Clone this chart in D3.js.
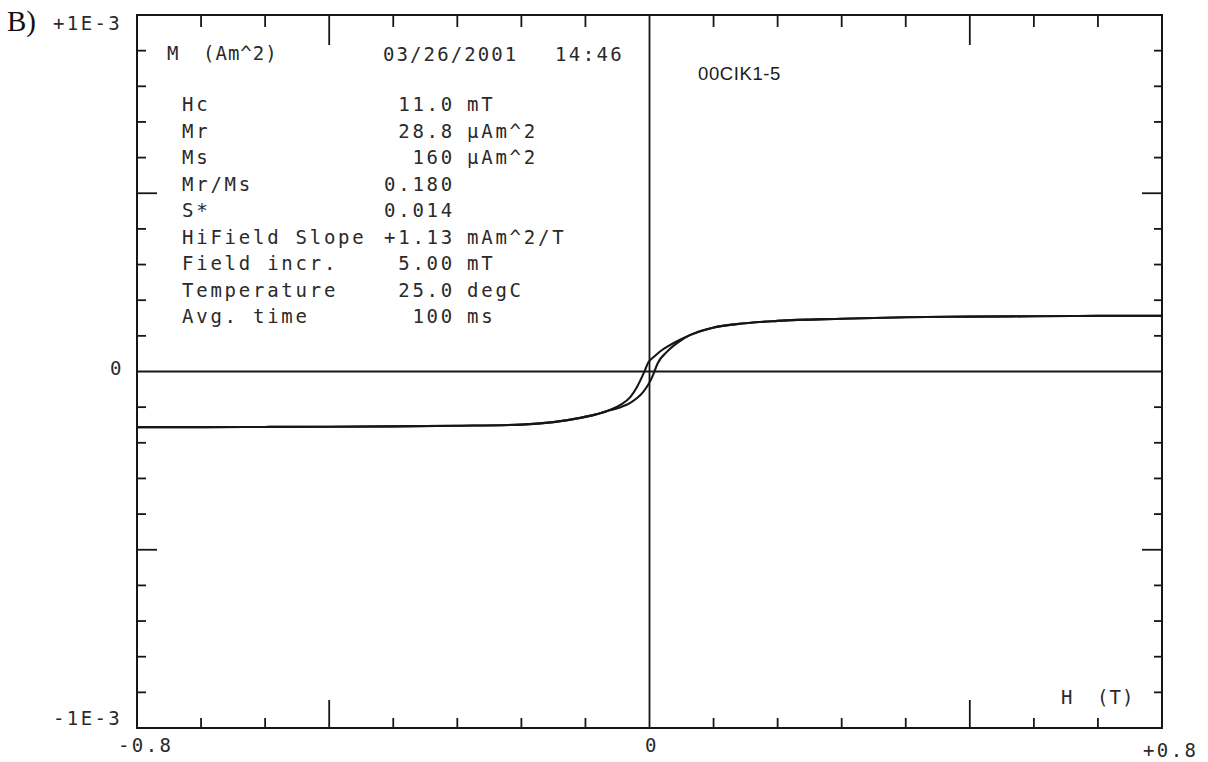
<!DOCTYPE html>
<html><head><meta charset="utf-8">
<script src="https://cdn.jsdelivr.net/npm/d3@7"></script>
<style>
html,body{margin:0;padding:0;background:#fff;}
svg{display:block;}
.mono{font-family:"DejaVu Sans Mono",monospace;fill:#2a2a2a;}
</style></head>
<body>
<svg id="c" width="1208" height="762"></svg>
<script>
// ---- data ----
// descending branch (field going from +0.8 T to -0.8 T), M in µAm^2
const H_desc = [0.8, 0.7, 0.6, 0.5, 0.4, 0.3, 0.2, 0.136, 0.099, 0.063, 0.043, 0.03, 0.0164, 0.008, 0, -0.0023, -0.007, -0.0117, -0.02, -0.03, -0.045, -0.062, -0.085, -0.108, -0.15, -0.2, -0.3, -0.4, -0.5, -0.6, -0.7, -0.8];
const M_desc = [156, 156, 155, 154, 152, 148, 142, 133, 123, 102, 85, 72, 56, 43, 30, 24, 4, -15, -45, -72, -93, -108, -121, -130, -142, -149, -152, -154, -155, -155.5, -156, -156];
// ascending branch (field going from -0.8 T to +0.8 T)
const H_asc = [-0.8, -0.7, -0.6, -0.5, -0.4, -0.3, -0.2, -0.15, -0.108, -0.085, -0.062, -0.045, -0.03, -0.0101, -0.0023, 0.0055, 0.013, 0.027, 0.048, 0.063, 0.099, 0.136, 0.2, 0.3, 0.4, 0.5, 0.6, 0.7, 0.8];
const M_asc = [-156, -156, -155.5, -155, -154, -152, -149, -142, -130, -121, -109, -100, -88, -58, -38, -10, 24, 55, 86, 102, 123, 133, 142, 148, 152, 154, 155, 156, 156];
const xDomain = [-0.8, 0.8];
const yDomain = [-1e-3, 1e-3];
const xMinorTicks = [-0.7, -0.6, -0.5, -0.4, -0.3, -0.2, -0.1, 0.1, 0.2, 0.3, 0.4, 0.5, 0.6, 0.7];
const xMajorTicks = [-0.5, 0.5];
const yMinorTicks = [-9e-4, -8e-4, -7e-4, -6e-4, -5e-4, -4e-4, -3e-4, -2e-4, -1e-4, 1e-4, 2e-4, 3e-4, 4e-4, 5e-4, 6e-4, 7e-4, 8e-4, 9e-4];
const yMajorTicks = [-5e-4, 5e-4];
const xTickLabels = ["-0.8", "0", "+0.8"];
const yTickLabels = ["+1E-3", "0", "-1E-3"];
const statLabels = ["Hc", "Mr", "Ms", "Mr/Ms", "S*", "HiField Slope", "Field incr.", "Temperature", "Avg. time"];
const statValues = ["11.0", "28.8", "160", "0.180", "0.014", "+1.13", "5.00", "25.0", "100"];
const statUnits = ["mT", "µAm^2", "µAm^2", "", "", "mAm^2/T", "mT", "degC", "ms"];
const headerText = ["M", "(Am^2)", "03/26/2001", "14:46"];
const sampleName = "00CIK1-5";
const panelLabel = "B)";
const xAxisTitle = ["H", "(T)"];

// ---- layout ----
const svg = d3.select("#c");
const L = 137, R = 1162, T = 15, B = 728;
const x = d3.scaleLinear().domain(xDomain).range([L, R]);
const y = d3.scaleLinear().domain(yDomain).range([B, T]);
const ink = "#161616";

// zero lines
svg.append("line").attr("x1", x(xDomain[0])).attr("x2", x(xDomain[1]))
  .attr("y1", y(0)).attr("y2", y(0)).attr("stroke", ink).attr("stroke-width", 1.8);
svg.append("line").attr("x1", x(0)).attr("x2", x(0))
  .attr("y1", y(yDomain[0])).attr("y2", y(yDomain[1])).attr("stroke", ink).attr("stroke-width", 1.8);

// ticks
const tk = svg.append("g").attr("stroke", ink).attr("stroke-width", 1.8);
xMinorTicks.forEach(v => {
  const big = xMajorTicks.includes(v);
  tk.append("line").attr("x1", x(v)).attr("x2", x(v)).attr("y1", T).attr("y2", T + (big ? 30 : 12));
  tk.append("line").attr("x1", x(v)).attr("x2", x(v)).attr("y1", B).attr("y2", B - (big ? 28 : 10));
});
yMinorTicks.forEach(v => {
  const big = yMajorTicks.some(m => Math.abs(m - v) < 1e-9);
  tk.append("line").attr("x1", L).attr("x2", L + (big ? 20 : 9)).attr("y1", y(v)).attr("y2", y(v));
  tk.append("line").attr("x1", R).attr("x2", R - (big ? 20 : 8)).attr("y1", y(v)).attr("y2", y(v));
});

// frame
svg.append("rect").attr("x", L).attr("y", T).attr("width", R - L).attr("height", B - T)
  .attr("fill", "none").attr("stroke", ink).attr("stroke-width", 2);

// curves
const line = d3.line().x(d => x(d[0])).y(d => y(d[1] * 1e-6)).curve(d3.curveMonotoneX);
const desc = H_desc.map((h, i) => [h, M_desc[i]]).sort((a, b) => a[0] - b[0]);
const asc = H_asc.map((h, i) => [h, M_asc[i]]).sort((a, b) => a[0] - b[0]);
[desc, asc].forEach(pts => {
  svg.append("path").attr("d", line(pts)).attr("fill", "none")
    .attr("stroke", ink).attr("stroke-width", 2.1).attr("stroke-linejoin", "round");
});

// texts
function mono(txt, xx, yy, opts = {}) {
  return svg.append("text").attr("class", "mono").attr("x", xx).attr("y", yy)
    .attr("font-size", opts.size || 19).attr("letter-spacing", opts.ls != null ? opts.ls : 2.75)
    .attr("text-anchor", opts.anchor || "start").text(txt);
}
// panel label
svg.append("text").attr("x", 7).attr("y", 31).attr("font-family", "Liberation Serif, Times New Roman, serif")
  .attr("font-size", 29).attr("fill", "#111").text(panelLabel);
// y labels
mono(yTickLabels[0], 53, 30, {ls: 2.4});
mono(yTickLabels[1], 110, 375, {ls: 0});
mono(yTickLabels[2], 53, 725, {ls: 2.4});
// x labels
mono(xTickLabels[0], 118, 752, {ls: 2.4});
mono(xTickLabels[1], 645, 752, {ls: 0});
mono(xTickLabels[2], 1143, 757, {ls: 2.4});
mono(xAxisTitle[0], 1061, 704, {ls: 0});
mono(xAxisTitle[1], 1097, 704, {ls: 1});
// header
mono(headerText[0], 167, 60, {ls: 1});
mono(headerText[1], 203, 60, {ls: 1});
mono(headerText[2], 383, 61, {ls: 2.1});
mono(headerText[3], 555, 61, {ls: 2.4});
svg.append("text").attr("x", 698).attr("y", 80).attr("font-family", "Liberation Sans, Arial, sans-serif")
  .attr("font-size", 18.5).attr("letter-spacing", 0.6).attr("fill", "#1a1a1a").text(sampleName);
// stats block
const rowY = d3.scaleLinear().domain([0, statLabels.length - 1]).range([111, 323]);
statLabels.forEach((lab, i) => {
  mono(lab, 182, rowY(i));
  mono(statValues[i], 455, rowY(i), {anchor: "end"});
  if (statUnits[i]) mono(statUnits[i], 467, rowY(i));
});
</script>
</body></html>
